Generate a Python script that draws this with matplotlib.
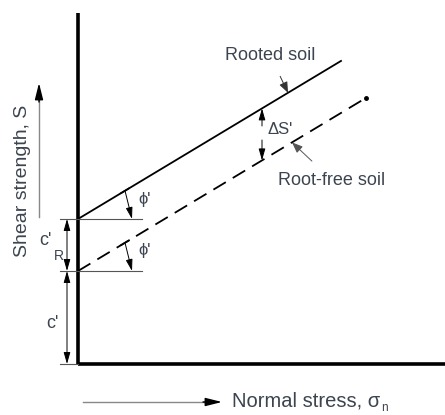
import matplotlib.pyplot as plt

# schematic values, origin at the axes corner, units ~ pixels
c_prime = 93          # root-free cohesion
c_r = 52              # extra cohesion from roots
tan_phi = 0.601       # slope of both envelopes
sigma_rooted = [0, 263]
sigma_free = [0, 288]
axis_top = 351
axis_right = 367

txt = '#3c4450'
plt.rcParams['font.family'] = ['Liberation Sans', 'DejaVu Sans']

fig = plt.figure(figsize=(4.45, 4.15), dpi=100)
ax = fig.add_axes([0, 0, 1, 1])
ax.set_xlim(-78, 367)
ax.set_ylim(-51, 364)
ax.axis('off')

# axes of the diagram
ax.plot([0, 0], [0, axis_top], color='k', lw=2.6, solid_capstyle='butt')
ax.plot([0, axis_right], [0, 0], color='k', lw=2.6, solid_capstyle='butt')

# envelopes
y_rooted = [c_prime + c_r + tan_phi * s for s in sigma_rooted]
y_free = [c_prime + tan_phi * s for s in sigma_free]
ax.plot(sigma_rooted, y_rooted, color='k', lw=1.3)
ax.plot(sigma_free, y_free, color='k', lw=1.3, dashes=(8, 4.5))
ax.plot(sigma_free[-1], y_free[-1], 'o', color='k', ms=2.5)

# horizontal reference lines
for yy in [c_prime + c_r, c_prime]:
    ax.plot([-18, 64], [yy, yy], color='#555555', lw=0.8)
ax.plot([-18, 0], [0, 0], color='#555555', lw=0.8)

head = '<|-|>,head_length=0.7,head_width=0.2'
one = '-|>,head_length=0.7,head_width=0.2'
ap = dict(color='k', lw=0.7, shrinkA=0, shrinkB=0)

# dimension lines
ax.annotate('', xy=(-11, c_prime + c_r), xytext=(-11, c_prime),
            arrowprops=dict(arrowstyle=head, **ap))
ax.annotate('', xy=(-11, c_prime), xytext=(-11, 0),
            arrowprops=dict(arrowstyle=head, **ap))
ax.text(-33, 124, "c'", fontsize=13, color=txt, ha='center', va='center')
ax.text(-19, 108, "R", fontsize=10, color=txt, ha='center', va='center')
ax.text(-26, 41, "c'", fontsize=13, color=txt, ha='center', va='center')

# phi' marks
for base in [c_prime + c_r, c_prime]:
    x0, y0 = 47, base + tan_phi * 47
    ax.annotate('', xy=(54, base), xytext=(x0, y0),
                arrowprops=dict(arrowstyle=one, **ap))
    ax.plot([x0 - 4, x0 + 4], [y0 - 2.4, y0 + 2.4], color='k', lw=1.2)
    ax.text(67, base + 20, "\u03d5'", fontsize=12, color=txt,
            ha='center', va='center')

# delta S'
xs = 184
ax.annotate('', xy=(xs, c_prime + c_r + tan_phi * xs), xytext=(xs, 238),
            arrowprops=dict(arrowstyle=one, **ap))
ax.annotate('', xy=(xs, c_prime + tan_phi * xs), xytext=(xs, 224),
            arrowprops=dict(arrowstyle=one, **ap))
ax.text(202, 234, "\u0394S'", fontsize=12, color=txt, ha='center', va='center')

# labels with leaders
ax.annotate('Rooted soil', xy=(210, c_prime + c_r + tan_phi * 210),
            xytext=(192, 309), fontsize=13, color=txt, ha='center', va='center',
            arrowprops=dict(arrowstyle='-|>,head_length=0.5,head_width=0.2',
                            color='#333333', lw=0.7, shrinkA=8, shrinkB=0))
ax.annotate('Root-free soil', xy=(214, c_prime + tan_phi * 214),
            xytext=(254, 184), fontsize=13, color=txt, ha='center', va='center',
            arrowprops=dict(arrowstyle='-|>,head_length=0.5,head_width=0.2',
                            color='#555555', lw=0.7, shrinkA=8, shrinkB=0))

# axis titles
ax.text(-56, 183, 'Shear strength, S', fontsize=14, color=txt, rotation=90,
        ha='center', va='center')
ax.plot([-39, -39], [147, 265], color='#888888', lw=1.0)
ax.annotate('', xy=(-39, 281), xytext=(-39, 262),
            arrowprops=dict(arrowstyle='-|>,head_length=1.0,head_width=0.25',
                            color='k', lw=1.0, shrinkA=0, shrinkB=0))
ax.plot([5, 128], [-38, -38], color='#888888', lw=1.0)
ax.annotate('', xy=(144, -38), xytext=(125, -38),
            arrowprops=dict(arrowstyle='-|>,head_length=1.0,head_width=0.25',
                            color='k', lw=1.0, shrinkA=0, shrinkB=0))
ax.text(154, -37, 'Normal stress, \u03c3', fontsize=14.5, color=txt,
        ha='left', va='center')
ax.text(303, -44, 'n', fontsize=8.5, color=txt, ha='left', va='center')

fig.savefig('out.png', dpi=100)
